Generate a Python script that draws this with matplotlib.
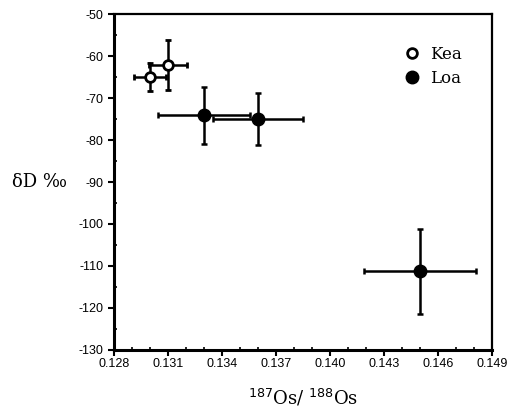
import matplotlib.pyplot as plt
from matplotlib.ticker import MultipleLocator
from matplotlib.lines import Line2D

plt.rcParams['axes.unicode_minus'] = False
plt.rcParams['font.family'] = 'Liberation Sans'

kea_os = [0.1300, 0.1310]
kea_d = [-65.0, -62.2]
kea_os_err = [0.0009, 0.00105]
kea_d_err = [3.3, 6.0]

loa_os = [0.1330, 0.1360, 0.1450]
loa_d = [-74.1, -75.1, -111.3]
loa_os_err = [0.00255, 0.0025, 0.0031]
loa_d_err = [6.8, 6.2, 10.1]

xticks = [0.128, 0.131, 0.134, 0.137, 0.140, 0.143, 0.146, 0.149]
xticklabels = ['0.128', '0.131', '0.134', '0.137', '0.140', '0.143', '0.146', '0.149']

fig = plt.figure(figsize=(5.07, 4.12), dpi=100)
ax = fig.add_axes([0.2249, 0.1505, 0.7455, 0.8155])

ax.errorbar(loa_os, loa_d, xerr=loa_os_err, yerr=loa_d_err, fmt='o', color='black',
            ms=9, elinewidth=1.8, capsize=2, capthick=1.8)
ax.errorbar(kea_os, kea_d, xerr=kea_os_err, yerr=kea_d_err, fmt='o', color='black',
            mfc='white', mec='black', mew=2, ms=7, elinewidth=1.8, capsize=2,
            capthick=1.8)

ax.set_xlim(0.128, 0.149)
ax.set_ylim(-130, -50)
ax.set_xticks(xticks)
ax.set_xticklabels(xticklabels)
ax.xaxis.set_minor_locator(MultipleLocator(0.001))
ax.yaxis.set_major_locator(MultipleLocator(10))
ax.yaxis.set_minor_locator(MultipleLocator(5))
ax.tick_params(which='major', direction='out', length=4, width=1.5, labelsize=9)
ax.tick_params(axis='x', which='major', pad=2)
ax.tick_params(which='minor', direction='in', length=2, width=1.2)

for side in ['left', 'bottom']:
    ax.spines[side].set_linewidth(2.2)
for side in ['top', 'right']:
    ax.spines[side].set_linewidth(1.6)

handles = [
    Line2D([], [], ls='none', marker='o', ms=7, mfc='white', mec='black', mew=2),
    Line2D([], [], ls='none', marker='o', ms=9, color='black'),
]
ax.legend(handles, ['Kea', 'Loa'], loc='upper right', frameon=False,
          prop={'family': 'DejaVu Serif', 'size': 12}, handletextpad=0.6,
          bbox_to_anchor=(0.96, 0.95), handlelength=1.0, labelspacing=0.45)

ax.set_ylabel('δD ‰', family='DejaVu Serif', fontsize=13, rotation=0, labelpad=28, va='center')
ax.set_xlabel('$^{187}$Os/ $^{188}$Os', family='DejaVu Serif', fontsize=13, labelpad=12)

fig.savefig('out.png', dpi=100)
